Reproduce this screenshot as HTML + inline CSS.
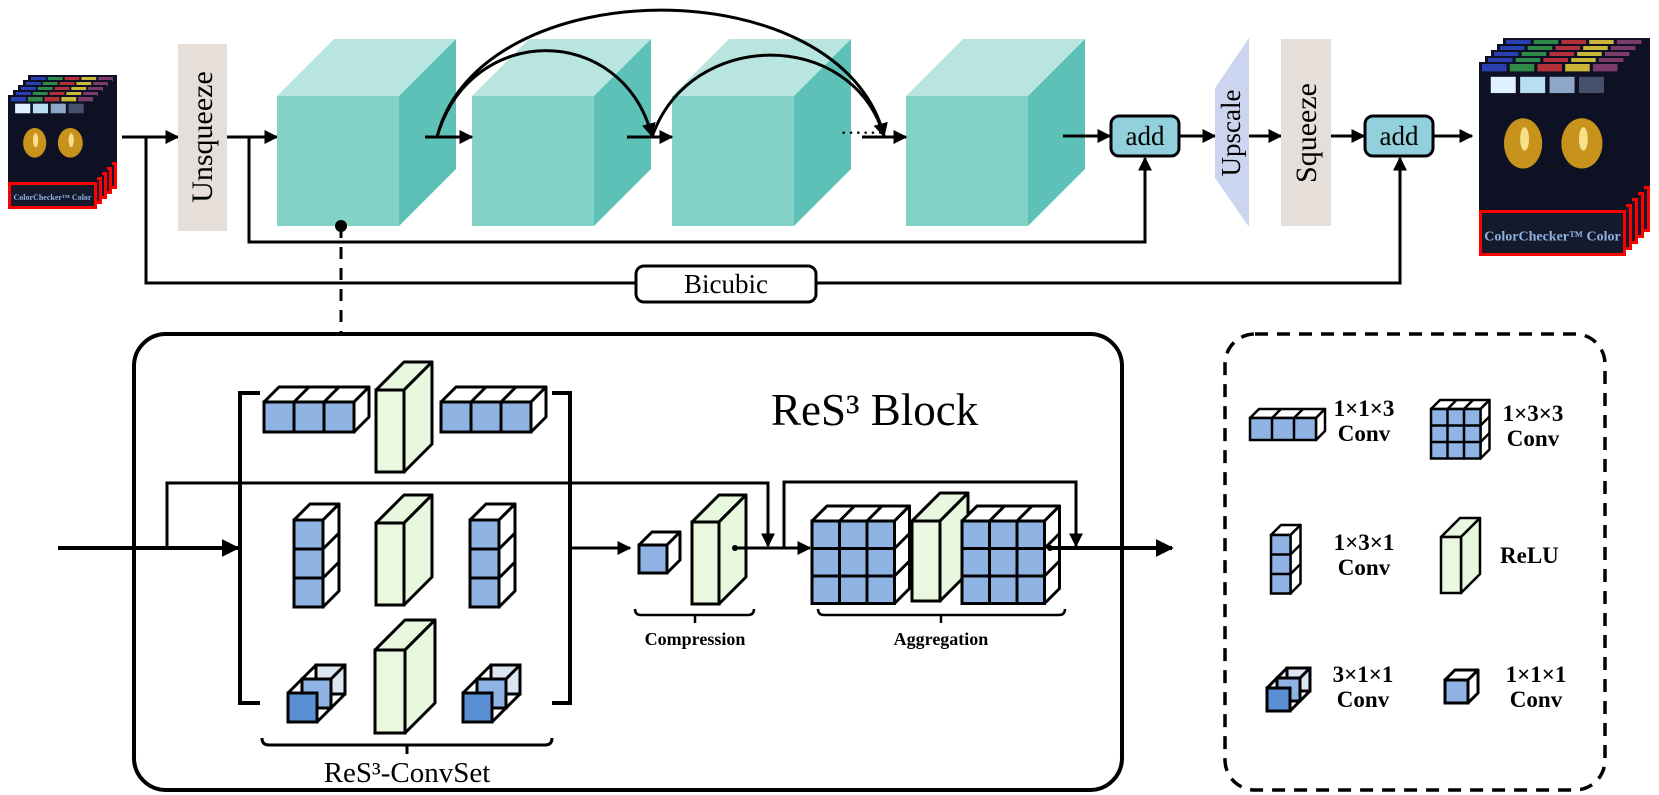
<!DOCTYPE html>
<html><head><meta charset="utf-8"><style>
html,body{margin:0;padding:0;background:#fff;}
svg{display:block;}
text{font-family:"Liberation Serif",serif;}
</style></head><body>
<svg id="s" width="1659" height="795" viewBox="0 0 1659 795" xmlns="http://www.w3.org/2000/svg">
<defs>
<marker id="ah" viewBox="0 0 10 10" refX="9" refY="5" markerWidth="14" markerHeight="14" markerUnits="userSpaceOnUse" orient="auto"><path d="M0,0 L10,5 L0,10 z" fill="#000"/></marker>
<marker id="ahb" viewBox="0 0 10 10" refX="9" refY="5" markerWidth="18" markerHeight="18" markerUnits="userSpaceOnUse" orient="auto"><path d="M0,0 L10,5 L0,10 z" fill="#000"/></marker>
</defs>
<g id="g"></g>
</svg>
<script>
var o='';
function P(s){o+=s;}
function line(x1,y1,x2,y2,w,arrow,extra){P('<line x1="'+x1+'" y1="'+y1+'" x2="'+x2+'" y2="'+y2+'" stroke="#000" stroke-width="'+(w||3)+'" '+(arrow?'marker-end="url(#'+arrow+')"':'')+' '+(extra||'')+'/>');}
function pl(pts,w,arrow){P('<polyline points="'+pts+'" fill="none" stroke="#000" stroke-width="'+(w||3)+'" stroke-linejoin="miter" '+(arrow?'marker-end="url(#'+arrow+')"':'')+'/>');}
function poly(pts,fill,sw){P('<polygon points="'+pts+'" fill="'+fill+'" stroke="#000" stroke-width="'+(sw||3)+'" stroke-linejoin="round"/>');}
function gridBox(x,y,cols,rows,c,d,fill,sw){
 sw=sw||3;var W=cols*c,H=rows*c;
 poly(x+','+y+' '+(x+d)+','+(y-d)+' '+(x+W+d)+','+(y-d)+' '+(x+W)+','+y,'#fff',sw);
 poly((x+W)+','+y+' '+(x+W+d)+','+(y-d)+' '+(x+W+d)+','+(y+H-d)+' '+(x+W)+','+(y+H),'#fff',sw);
 for(var i=1;i<cols;i++)line(x+i*c,y,x+i*c+d,y-d,sw);
 for(var j=1;j<rows;j++)line(x+W,y+j*c,x+W+d,y+j*c-d,sw);
 P('<rect x="'+x+'" y="'+y+'" width="'+W+'" height="'+H+'" fill="'+(fill||'#8fb3e3')+'" stroke="#000" stroke-width="'+sw+'"/>');
 for(i=1;i<cols;i++)line(x+i*c,y,x+i*c,y+H,sw);
 for(j=1;j<rows;j++)line(x,y+j*c,x+W,y+j*c,sw);
}
function relu(x,y,w,h,d,sw){
 sw=sw||3;
 poly(x+','+y+' '+(x+d)+','+(y-d)+' '+(x+w+d)+','+(y-d)+' '+(x+w)+','+y,'#e8f8de',sw);
 poly((x+w)+','+y+' '+(x+w+d)+','+(y-d)+' '+(x+w+d)+','+(y+h-d)+' '+(x+w)+','+(y+h),'#e8f8de',sw);
 P('<rect x="'+x+'" y="'+y+'" width="'+w+'" height="'+h+'" fill="#e9f8df" stroke="#000" stroke-width="'+sw+'"/>');
}
function deep(x,y,c,D,sw){
 sw=sw||3;var s=D/2;
 P('<rect x="'+(x+D)+'" y="'+(y-D)+'" width="'+c+'" height="'+c+'" fill="#dce6f2" stroke="#000" stroke-width="'+sw+'"/>');
 line(x,y,x+D,y-D,sw);line(x+c,y,x+c+D,y-D,sw);line(x+c,y+c,x+c+D,y+c-D,sw);
 P('<rect x="'+(x+s)+'" y="'+(y-s)+'" width="'+c+'" height="'+c+'" fill="#8fb3e3" stroke="#000" stroke-width="'+sw+'"/>');
 P('<rect x="'+x+'" y="'+y+'" width="'+c+'" height="'+c+'" fill="#5b8fd4" stroke="#000" stroke-width="'+sw+'"/>');
}
function tcube(x,y,w,h,d){
 P('<polygon points="'+x+','+y+' '+(x+d)+','+(y-d)+' '+(x+w+d)+','+(y-d)+' '+(x+w)+','+y+'" fill="#b9e5e0"/>');
 P('<polygon points="'+(x+w)+','+y+' '+(x+w+d)+','+(y-d)+' '+(x+w+d)+','+(y+h-d)+' '+(x+w)+','+(y+h)+'" fill="#5ec1b7"/>');
 P('<rect x="'+x+'" y="'+y+'" width="'+w+'" height="'+h+'" fill="#82d2c8"/>');
}
function card(x,y,w,h,full){
 P('<rect x="'+x+'" y="'+y+'" width="'+w+'" height="'+h+'" fill="#0e1124"/>');
 var cols=['#2a3fb0','#2f8a4a','#b2303a','#c9b63a','#7a3a6a'];
 for(var i=0;i<5;i++)P('<rect x="'+(x+3+i*w/5.3)+'" y="'+(y+2)+'" width="'+(w/6)+'" height="'+(h*0.05)+'" fill="'+cols[i]+'"/>');
 if(full){
  var gs=['#e0f2ff','#b9def2','#8ea6c8','#46506a'];
  for(i=0;i<4;i++)P('<rect x="'+(x+w*0.08+i*w*0.2)+'" y="'+(y+h*0.1)+'" width="'+(w*0.17)+'" height="'+(h*0.11)+'" fill="'+gs[i]+'"/>');
  P('<ellipse cx="'+(x+w*0.3)+'" cy="'+(y+h*0.55)+'" rx="'+(w*0.13)+'" ry="'+(h*0.17)+'" fill="#c8931c"/>');
  P('<ellipse cx="'+(x+w*0.7)+'" cy="'+(y+h*0.55)+'" rx="'+(w*0.14)+'" ry="'+(h*0.17)+'" fill="#c8931c"/>');
  P('<ellipse cx="'+(x+w*0.31)+'" cy="'+(y+h*0.52)+'" rx="'+(w*0.03)+'" ry="'+(h*0.08)+'" fill="#f7e08a"/>');
  P('<ellipse cx="'+(x+w*0.71)+'" cy="'+(y+h*0.52)+'" rx="'+(w*0.03)+'" ry="'+(h*0.08)+'" fill="#f7e08a"/>');
 }
}
function stack(x,y,w,h,rh,n,dx,dy,fs,txt){
 for(var k=n;k>=0;k--){
  var X=x+k*dx,Y=y-k*dy;
  card(X,Y,w,h,k==0);
  P('<rect x="'+(X+1.5)+'" y="'+(Y+h+1.5)+'" width="'+(w-3)+'" height="'+(rh-3)+'" fill="#15192c" stroke="#f00" stroke-width="3"/>');
 }
 P('<text x="'+(x+w/2)+'" y="'+(y+h+rh*0.66)+'" font-family="Liberation Sans" font-weight="bold" font-size="'+fs+'" fill="#8fb0e0" text-anchor="middle">'+txt+'</text>');
}
stack(8,95,89,87,27,4,5,5,8,'ColorChecker™ Color');
stack(1479,62,147,148,46,4,6,6,14,'ColorChecker™ Color');
pl('146,137 146,283 1400,283 1400,158',3,'ah');
pl('249,137 249,242 1145,242 1145,158',3,'ah');
line(122,137,178,137,3,'ah');
P('<rect x="178" y="44" width="49" height="187" fill="#e6dfd9"/>');
P('<text transform="translate(212,137) rotate(-90)" font-size="30" text-anchor="middle">Unsqueeze</text>');
line(227,137,277,137,3,'ah');
tcube(277,96,122,130,57);
tcube(472,96,122,130,57);
tcube(672,96,122,130,57);
tcube(906,96,122,130,57);
line(425,137,472,137,3,'ah');
line(627,137,672,137,3,'ah');
P('<text x="840" y="140" font-size="22">······</text>');
line(862,137,906,137,3,'ah');
P('<path d="M437,137 C470,22 622,22 652,136" fill="none" stroke="#000" stroke-width="3" marker-end="url(#ah)"/>');
P('<path d="M437,137 C480,-32 842,-32 884,136" fill="none" stroke="#000" stroke-width="3" marker-end="url(#ah)"/>');
P('<path d="M652,137 C690,28 852,28 884,136" fill="none" stroke="#000" stroke-width="3" marker-end="url(#ah)"/>');
P('<circle cx="341" cy="226" r="6" fill="#000"/>');
line(341,226,341,333,3,'','stroke-dasharray="12,9"');
line(1063,136,1110,136,3,'ah');
P('<rect x="1111" y="116" width="68" height="40" rx="8" fill="#92d0dc" stroke="#000" stroke-width="3"/>');
P('<text x="1145" y="145" font-size="27" text-anchor="middle">add</text>');
line(1179,136,1215,136,3,'ah');
P('<polygon points="1215,88 1249,38 1249,227 1215,178" fill="#ccd5ef"/>');
P('<text transform="translate(1240,133) rotate(-90)" font-size="27" text-anchor="middle">Upscale</text>');
line(1249,136,1281,136,3,'ah');
P('<rect x="1281" y="39" width="50" height="187" fill="#e6dfd9"/>');
P('<text transform="translate(1316,133) rotate(-90)" font-size="30" text-anchor="middle">Squeeze</text>');
line(1331,136,1364,136,3,'ah');
P('<rect x="1365" y="116" width="68" height="40" rx="8" fill="#92d0dc" stroke="#000" stroke-width="3"/>');
P('<text x="1399" y="145" font-size="27" text-anchor="middle">add</text>');
line(1433,136,1472,136,3,'ah');
P('<rect x="636" y="266" width="180" height="36" rx="8" fill="#fff" stroke="#000" stroke-width="3"/>');
P('<text x="726" y="293" font-size="27" text-anchor="middle">Bicubic</text>');
P('<rect x="134" y="334" width="988" height="456" rx="32" fill="none" stroke="#000" stroke-width="4"/>');
P('<text x="771" y="425" font-size="45">ReS³ Block</text>');
line(58,548,238,548,4,'ahb');
pl('167,548 167,483 768,483 768,546',3,'ah');
pl('784,548 784,482 1076,482 1076,546',3,'ah');
pl('260,393 240,393 240,703 260,703',4);
pl('552,393 570,393 570,703 552,703',4);
gridBox(264,402,3,1,30,15);
relu(376,390,28,82,28);
gridBox(441,402,3,1,30,15);
gridBox(294,520,1,3,29,16);
relu(376,523,28,82,28);
gridBox(470,520,1,3,29,16);
deep(288,693,29,28);
relu(375,650,30,83,30);
deep(463,693,29,28);
P('<path d="M262,738 q0,7 7,7 L545,745 q7,0 7,-7 M407,745 L407,754" fill="none" stroke="#000" stroke-width="3"/>');
P('<text x="407" y="782" font-size="29" text-anchor="middle">ReS³-ConvSet</text>');
line(570,548,630,548,3,'ah');
gridBox(639,545,1,1,28,13);
relu(692,522,27,82,27);
P('<circle cx="735" cy="548" r="3" fill="#000"/>');
line(735,548,810,548,3,'ah');
gridBox(812,521,3,3,27.5,15);
relu(912,521,28,80,28);
gridBox(962,521,3,3,27.5,15);
P('<circle cx="1050" cy="548" r="3" fill="#000"/>');
line(1050,548,1172,548,4,'ahb');
P('<path d="M635,609 q0,6 6,6 L748,615 q6,0 6,-6 M695,615 L695,623" fill="none" stroke="#000" stroke-width="2.5"/>');
P('<text x="695" y="645" font-size="18" font-weight="bold" text-anchor="middle">Compression</text>');
P('<path d="M818,609 q0,6 6,6 L1059,615 q6,0 6,-6 M941,615 L941,623" fill="none" stroke="#000" stroke-width="2.5"/>');
P('<text x="941" y="645" font-size="18" font-weight="bold" text-anchor="middle">Aggregation</text>');
P('<rect x="1225" y="334" width="380" height="456" rx="30" fill="none" stroke="#000" stroke-width="3.5" stroke-dasharray="13,9"/>');
gridBox(1250,418,3,1,22,9,'#8fb3e3',2.5);
gridBox(1431,409,3,3,16.5,9,'#8fb3e3',2.5);
gridBox(1271,535,1,3,19.5,10,'#8fb3e3',2.5);
relu(1441,537,20,56,19,2.5);
deep(1267,688,23,20,3);
gridBox(1445,680,1,1,23,10,'#8fb3e3',3);
function lbl(x,y,a,b){P('<text x="'+x+'" y="'+y+'" font-size="23" font-weight="bold" text-anchor="middle">'+a+'</text><text x="'+x+'" y="'+(y+25)+'" font-size="23" font-weight="bold" text-anchor="middle">'+b+'</text>');}
lbl(1364,416,'1×1×3','Conv');
lbl(1533,421,'1×3×3','Conv');
lbl(1364,550,'1×3×1','Conv');
P('<text x="1500" y="563" font-size="23" font-weight="bold">ReLU</text>');
lbl(1363,682,'3×1×1','Conv');
lbl(1536,682,'1×1×1','Conv');
document.getElementById('g').innerHTML=o;
</script>
</body></html>
